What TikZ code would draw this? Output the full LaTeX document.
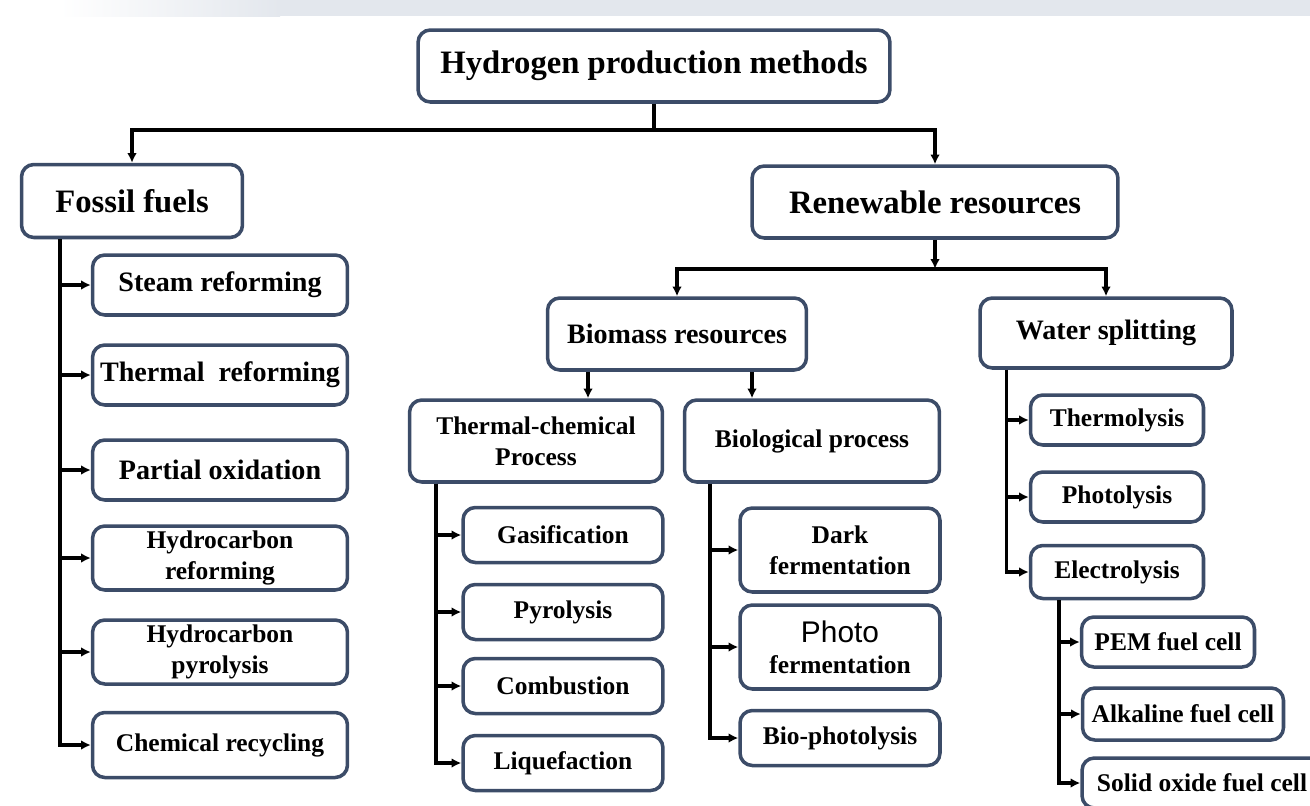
\documentclass[tikz,border=0pt]{standalone}
\usepackage{fontspec}
\setmainfont{Liberation Serif}
\newfontfamily\arialfont{Liberation Sans}
\usetikzlibrary{arrows.meta}
\definecolor{boxline}{HTML}{3C4C68}
\definecolor{bandgray}{HTML}{E3E7ED}
\tikzset{
  box/.style={draw=boxline, line width=2pt, rounded corners=7pt, fill=white,
    align=center, inner sep=0pt, font=\bfseries\fontsize{14.5}{17.5}\selectfont},
  midbox/.style={box, font=\bfseries\fontsize{16}{19}\selectfont},
  bigbox/.style={box, font=\bfseries\fontsize{18.6}{22}\selectfont},
  link/.style={line width=2pt},
  conn/.style={link, -{Latex[length=5.5pt,width=5.5pt]}},
}
\begin{document}
\begin{tikzpicture}[x=0.02cm, y=-0.02cm]
      \useasboundingbox (0,0) rectangle (1310,805);
      \shade[left color=white, right color=bandgray] (60,0) rectangle (280,16);
      \fill[bandgray] (280,0) rectangle (1310,16);
      % levels 0 and 1
      \node[bigbox, minimum width=9.44cm, minimum height=1.44cm] (top) at (654,66) {Hydrogen production methods};
      \node[bigbox, minimum width=4.42cm, minimum height=1.46cm] (fossil) at (132,201) {Fossil fuels};
      \node[bigbox, minimum width=7.32cm, minimum height=1.44cm] (renew) at (935,202) {Renewable resources};
      % fossil fuels
      \node[midbox, minimum width=5.1cm, minimum height=1.2cm] (steam) at (220,285) {Steam reforming};
      \node[midbox, minimum width=5.1cm, minimum height=1.2cm] (thermref) at (220,375) {Thermal\ \ reforming};
      \node[midbox, minimum width=5.1cm, minimum height=1.2cm] (partial) at (220,470) {Partial oxidation};
      \node[box, minimum width=5.1cm, minimum height=1.28cm] (hcref) at (220,558) {Hydrocarbon\\reforming};
      \node[box, minimum width=5.1cm, minimum height=1.28cm] (hcpyr) at (220,652) {Hydrocarbon\\pyrolysis};
      \node[box, minimum width=5.1cm, minimum height=1.3cm] (chemrec) at (220,745) {Chemical recycling};
      % renewable resources
      \node[midbox, minimum width=5.18cm, minimum height=1.44cm] (biomass) at (677,334) {Biomass resources};
      \node[midbox, minimum width=5.04cm, minimum height=1.4cm] (water) at (1106,333) {Water splitting};
      \node[box, minimum width=5.06cm, minimum height=1.64cm] (thermchem) at (536,441) {Thermal-chemical\\Process};
      \node[box, minimum width=5.1cm, minimum height=1.64cm] (bio) at (812,441) {Biological process};
      \node[box, minimum width=4cm, minimum height=1.1cm] (gasif) at (563,535) {Gasification};
      \node[box, minimum width=4cm, minimum height=1.1cm] (pyro) at (563,612) {Pyrolysis};
      \node[box, minimum width=4cm, minimum height=1.1cm] (combust) at (563,686) {Combustion};
      \node[box, minimum width=4cm, minimum height=1.1cm] (liquef) at (563,763) {Liquefaction};
      \node[box, minimum width=4cm, minimum height=1.68cm] (dark) at (840,550) {Dark\\fermentation};
      \node[box, minimum width=4cm, minimum height=1.68cm] (photo) at (840,647) {{\arialfont\mdseries\fontsize{17}{19}\selectfont Photo}\\fermentation};
      \node[box, minimum width=4cm, minimum height=1.1cm] (biophot) at (840,738) {Bio-photolysis};
      \node[box, minimum width=3.46cm, minimum height=1cm] (thermo) at (1117,420) {Thermolysis};
      \node[box, minimum width=3.46cm, minimum height=1cm] (photol) at (1117,497) {Photolysis};
      \node[box, minimum width=3.46cm, minimum height=1.06cm] (electro) at (1117,572) {Electrolysis};
      \node[box, minimum width=3.46cm, minimum height=1cm] (pem) at (1168,642) {PEM fuel cell};
      \node[box, minimum width=4.02cm, minimum height=1.04cm] (alk) at (1183,714) {Alkaline fuel cell};
      \node[box, minimum width=4.8cm, minimum height=1cm] (sofc) at (1202,783) {Solid oxide fuel cell};
      \begin{scope}[conn]
        \draw (top.south) -- ++(0,26) -| (fossil.north);
        \draw (top.south) -- ++(0,26) -| (renew.north);
        \draw (renew.south) -- ++(0,29) coordinate (split);
        \draw (split) -| (biomass.north);
        \draw (split) -| (water.north);
        \draw (biomass.south) ++(-89,0) coordinate (b1) -- (b1 |- thermchem.north);
        \draw (biomass.south) ++(75,0) coordinate (b2) -- (b2 |- bio.north);
        \draw (fossil.south west) ++(40,0) |- (steam.west);
        \draw (fossil.south west) ++(40,0) |- (thermref.west);
        \draw (fossil.south west) ++(40,0) |- (partial.west);
        \draw (fossil.south west) ++(40,0) |- (hcref.west);
        \draw (fossil.south west) ++(40,0) |- (hcpyr.west);
        \draw (fossil.south west) ++(40,0) |- (chemrec.west);
        \draw (thermchem.south west) ++(28,0) |- (gasif.west);
        \draw (thermchem.south west) ++(28,0) |- (pyro.west);
        \draw (thermchem.south west) ++(28,0) |- (combust.west);
        \draw (thermchem.south west) ++(28,0) |- (liquef.west);
        \draw (bio.south west) ++(27,0) |- (dark.west);
        \draw (bio.south west) ++(27,0) |- (photo.west);
        \draw (bio.south west) ++(27,0) |- (biophot.west);
        \draw (water.south west) ++(28,0) |- (thermo.west);
        \draw (water.south west) ++(28,0) |- (photol.west);
        \draw (water.south west) ++(28,0) |- (electro.west);
        \draw (electro.south west) ++(30,0) |- (pem.west);
        \draw (electro.south west) ++(30,0) |- (alk.west);
        \draw (electro.south west) ++(30,0) |- (sofc.west);
      \end{scope}
    \end{tikzpicture}
\end{document}
